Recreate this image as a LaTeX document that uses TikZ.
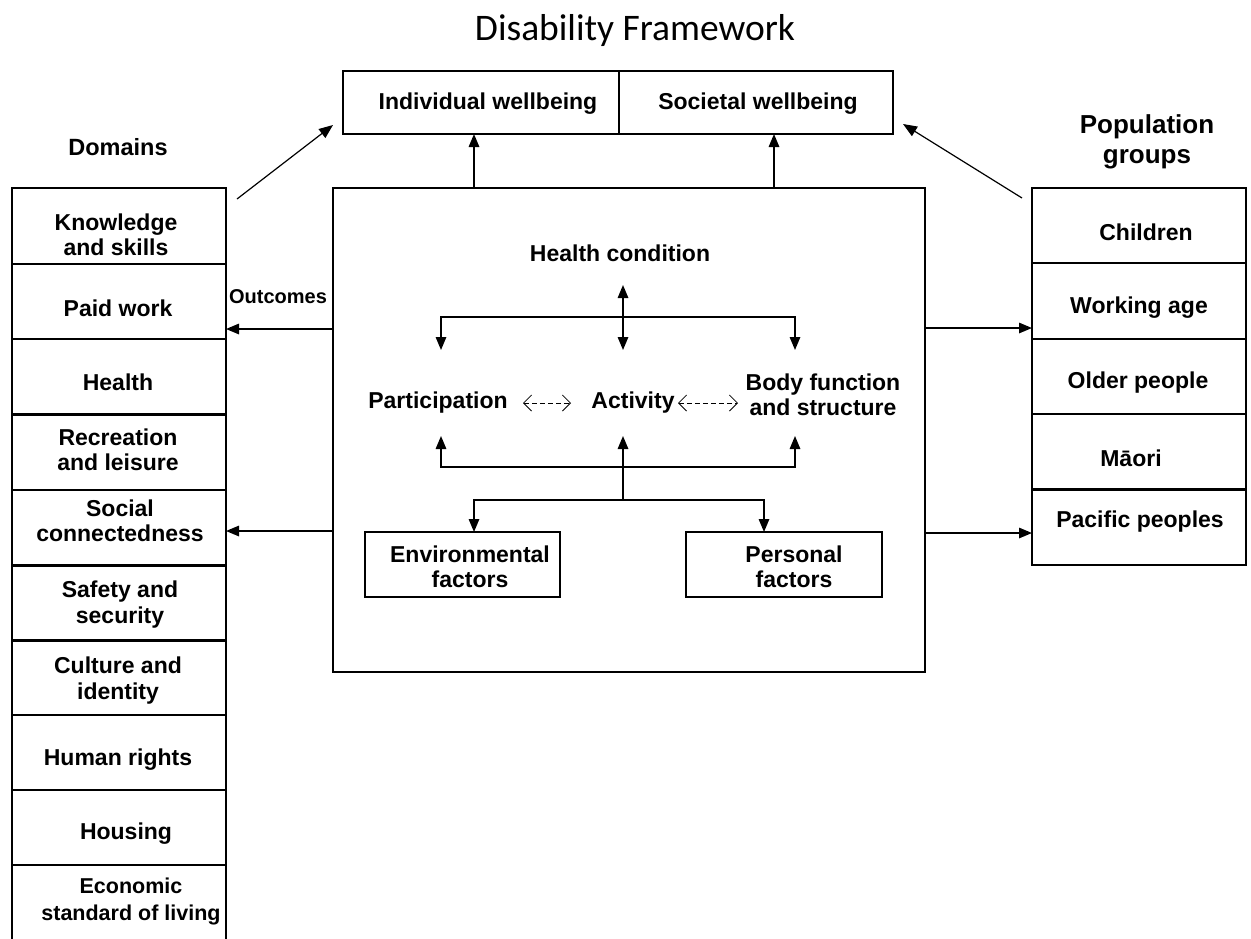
\documentclass[tikz,border=0pt]{standalone}
\usepackage{fontspec}
\setmainfont{Liberation Sans}
\newfontfamily\titlefont{Carlito}
\usetikzlibrary{arrows.meta}
\begin{document}
\begin{tikzpicture}[x=1pt,y=-1pt,
  cell/.style={draw,line width=1.7pt,inner sep=0pt,outer sep=0pt},
  txt/.style={font=\fontsize{23}{25.5}\selectfont\bfseries,align=center,inner sep=0pt},
  head/.style={font=\fontsize{26}{30}\selectfont\bfseries,align=center,inner sep=0pt},
  arr/.style={line width=1.5pt,-{Triangle[length=13pt,width=10.5pt]}},
  darr/.style={line width=1.5pt,{Triangle[length=13pt,width=10.5pt]}-{Triangle[length=13pt,width=10.5pt]}},
  lnk/.style={line width=1.5pt},
  thinarr/.style={line width=1.2pt,-{Triangle[length=14pt,width=11pt]}},
  dasharr/.style={line width=0.8pt,dash pattern=on 5pt off 3pt,{Straight Barb[length=8pt,width=16pt]}-{Straight Barb[length=8pt,width=16pt]}}
]
\path[use as bounding box,fill=white] (0,0) rectangle (1251,938);

% title
\node[font=\titlefont\fontsize{37.5}{40}\selectfont,inner sep=0pt] (title) at (635,30) {Disability Framework};

% top boxes
\node[cell,minimum width=276,minimum height=63] (iw) at (481,102.5) {};
\node[cell,minimum width=274,minimum height=63] (sw) at (756,102.5) {};
\node[txt] (iwt) at (488,104) {Individual wellbeing};
\node[txt] (swt) at (758,104) {Societal wellbeing};

% main box
\node[cell,minimum width=592,minimum height=484] (main) at (629,430) {};

% headings
\node[head,font=\fontsize{23.5}{30}\selectfont\bfseries] (dom) at (118,147) {Domains};
\node[head] (pop) at (1147,142) {Population\\groups};

% left column
\foreach \i/\yc in {1/226,2/301.5,3/377,4/452,5/528,6/603,7/677.5,8/752.5,9/827.5}{
  \node[cell,minimum width=214,minimum height=75.5] (d\i) at (119,\yc) {};
}
\node[cell,minimum width=214,minimum height=80] (d10) at (119,905) {};
\node[txt] (t1) at (116,235) {Knowledge\\and skills};
\node[txt] (t2) at (118,308) {Paid work};
\node[txt] (t3) at (118,382) {Health};
\node[txt] (t4) at (118,450) {Recreation\\and leisure};
\node[txt] (t5) at (120,521) {Social\\connectedness};
\node[txt] (t6) at (120,604.5) {Safety and\\security};
\node[txt] (t7) at (118,680.5) {Culture and\\identity};
\node[txt] (t8) at (118,760) {Human rights};
\node[txt] (t9) at (126,834) {Housing};
\node[txt,font=\fontsize{21.5}{26.5}\selectfont\bfseries] (t10) at (131,901.5) {Economic\\standard of living};

% right column
\foreach \i/\yc in {1/225.5,2/301,3/376.5,4/452,5/527}{
  \node[cell,minimum width=214,minimum height=75.5] (p\i) at (1139,\yc) {};
}
\node[txt] (u1) at (1146,232) {Children};
\node[txt] (u2) at (1139,308) {Working age};
\node[txt] (u3) at (1138,383) {Older people};
\node[txt] (u4) at (1131,458) {M\={a}ori};
\node[txt] (u5) at (1140,522) {Pacific peoples};

% inner texts
\node[txt] (hc) at (620,253) {Health condition};
\node[txt] (par) at (438,403) {Participation};
\node[txt] (act) at (633,403) {Activity};
\node[txt] (bod) at (823,395) {Body function\\and structure};
\node[cell,minimum width=195,minimum height=65] (env) at (462.5,564.5) {};
\node[cell,minimum width=196,minimum height=65] (per) at (784,564.5) {};
\node[txt] (envt) at (470,567) {Environmental\\factors};
\node[txt] (pert) at (794,567) {Personal\\factors};

% connector coordinates
\coordinate (mi) at (474,188);
\coordinate (ms) at (774,188);
\coordinate (hcup) at (623,285);
\coordinate (hcdn) at (623,350);
\coordinate (jt) at (623,317);
\coordinate (pin) at (441,350);
\coordinate (bin) at (795,350);
\coordinate (jb) at (623,467);
\coordinate (pout) at (441,436);
\coordinate (aout) at (623,436);
\coordinate (bout) at (795,436);
\coordinate (jf) at (623,500);
\coordinate (ein) at (474,532);
\coordinate (fin) at (764,532);
\coordinate (ld) at (237,199);
\coordinate (ldt) at (333,125);
\coordinate (rd) at (1022,198);
\coordinate (rdt) at (903,124);
\coordinate (da1) at (523,403);
\coordinate (da2) at (571,403);
\coordinate (db1) at (678,403);
\coordinate (db2) at (738,403);

% wellbeing arrows
\draw[arr] (mi) -- (mi |- iw.south);
\draw[arr] (ms) -- (ms |- sw.south);
\draw[thinarr] (ld) -- (ldt);
\draw[thinarr] (rd) -- (rdt);

% health condition links
\draw[darr] (hcup) -- (hcdn);
\draw[arr] (jt) -| (pin);
\draw[arr] (jt) -| (bin);

% dashed interactions
\draw[dasharr] (da1) -- (da2);
\draw[dasharr] (db1) -- (db2);

% contextual factors links
\draw[arr] (jb) -| (pout);
\draw[arr] (jb) -| (bout);
\draw[arr] (jf) -- (aout);
\draw[arr] (jf) -| (ein);
\draw[arr] (jf) -| (fin);

% outcome arrows
\coordinate (lo1) at (333,329);
\coordinate (lo2) at (333,531);
\coordinate (ro1) at (925,328);
\coordinate (ro2) at (925,533);
\draw[arr] (lo1) -- (lo1 -| d2.east);
\draw[arr] (lo2) -- (lo2 -| d5.east);
\draw[arr] (ro1) -- (ro1 -| p2.west);
\draw[arr] (ro2) -- (ro2 -| p5.west);
\node[font=\fontsize{20}{22}\selectfont\bfseries,inner sep=0pt] (out) at (278,297) {Outcomes};
\end{tikzpicture}
\end{document}
